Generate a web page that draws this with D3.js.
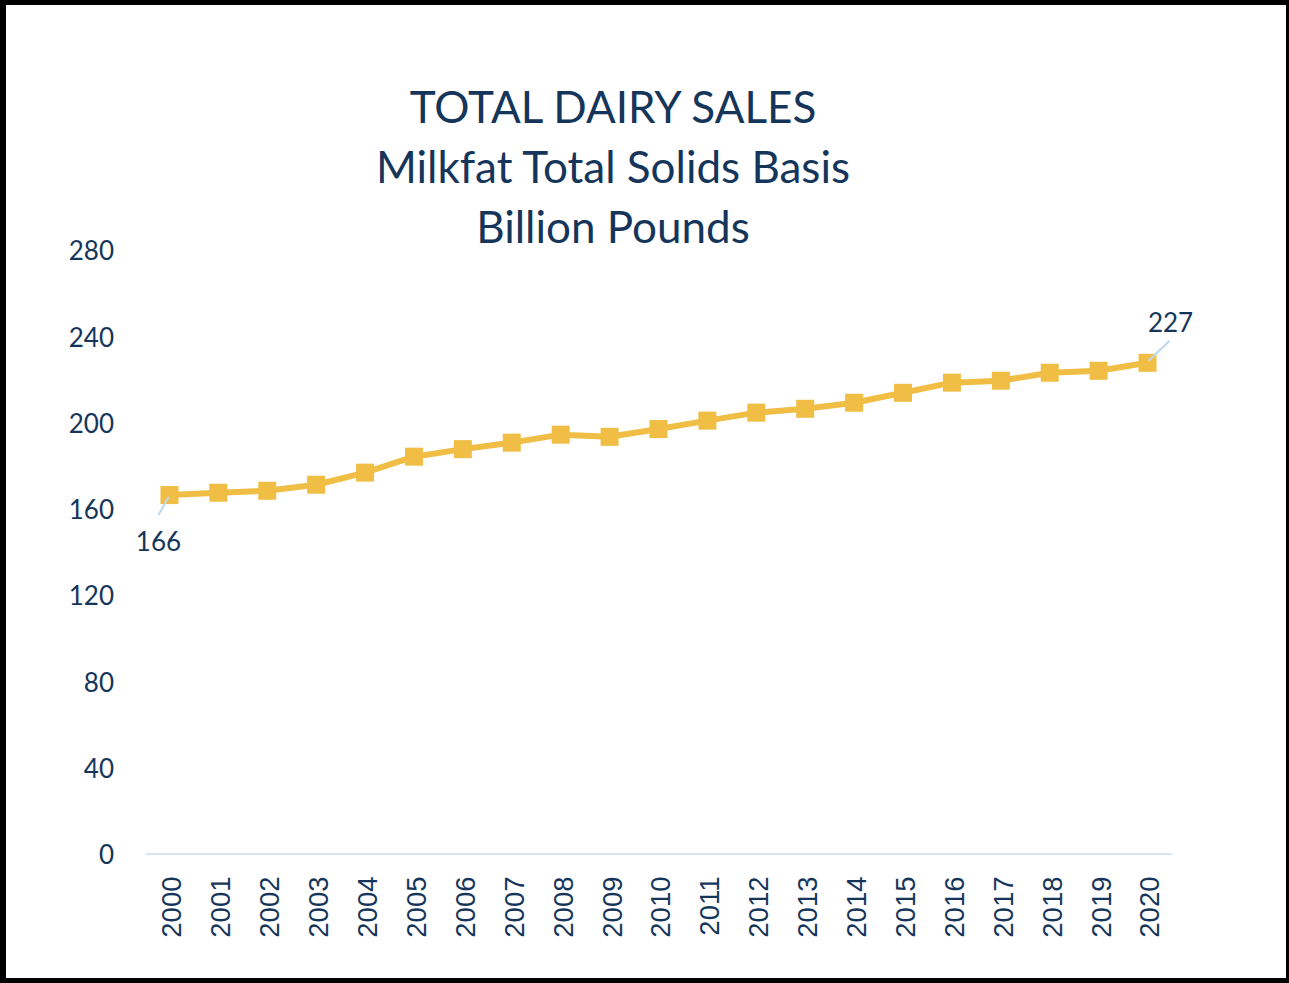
<!DOCTYPE html>
<html>
<head>
<meta charset="utf-8">
<script src="https://cdn.jsdelivr.net/npm/d3@7"></script>
<style>
  html, body { margin: 0; padding: 0; background: #fff; }
  svg { display: block; }
</style>
</head>
<body>
<svg id="chart" width="1289" height="983"></svg>
<script>
const years = ["2000","2001","2002","2003","2004","2005","2006","2007","2008","2009","2010",
               "2011","2012","2013","2014","2015","2016","2017","2018","2019","2020"];
const sales = [166.1, 167.2, 168.1, 170.9, 176.5, 183.9, 187.4, 190.4, 194.1, 193.1, 196.7,
               200.6, 204.3, 206.1, 208.9, 213.5, 218.2, 219.1, 222.8, 223.7, 227.4];
const yTicks = [0, 40, 80, 120, 160, 200, 240, 280];
const titleLines = ["TOTAL DAIRY SALES", "Milkfat Total Solids Basis", "Billion Pounds"];
const labelled = [{i: 0, text: "166"}, {i: 20, text: "227"}];

const svg = d3.select("#chart");
const W = 1289, H = 983;
const navy = "#15365a";
const gold = "#f0bd45";

// frame
svg.append("rect").attr("x", 0).attr("y", 0).attr("width", W).attr("height", H).attr("fill", "#000");
svg.append("rect").attr("x", 6).attr("y", 5).attr("width", W - 9).attr("height", H - 10).attr("fill", "#fff");

const x = d3.scaleBand().domain(years).range([145, 1172]);
const y = d3.scaleLinear().domain([0, 280]).range([853.5, 249.3]);

// title
const title = svg.append("g");
titleLines.forEach((t, k) => {
  title.append("text")
    .attr("x", 613).attr("y", 123 + k * 60)
    .attr("text-anchor", "middle")
    .attr("font-family", "Lato, 'Open Sans', sans-serif")
    .attr("font-size", 44)
    .attr("fill", navy)
    .text(t);
});

// y axis (labels only)
const yAxis = d3.axisLeft(y).tickValues(yTicks).tickSize(0).tickPadding(0);
const gy = svg.append("g").attr("transform", "translate(114,0)").call(yAxis);
gy.select(".domain").remove();
gy.selectAll("text")
  .attr("font-family", "Lato, 'Open Sans', sans-serif")
  .attr("font-size", 26)
  .attr("fill", navy)
  .attr("dy", "0.4em");

// x axis baseline
const xAxis = d3.axisBottom(x).tickSize(0).tickPadding(0);
const gx = svg.append("g").attr("transform", `translate(0,${y(0)})`).call(xAxis);
gx.select(".domain").attr("stroke", "#d9e5f5").attr("stroke-width", 2);
gx.selectAll("text")
  .attr("font-family", "'Liberation Sans', Arial, sans-serif")
  .attr("font-size", 27.5)
  .attr("fill", navy)
  .attr("text-anchor", "end")
  .attr("transform", "translate(2,23) rotate(-90)")
  .attr("x", 0).attr("y", 0).attr("dy", "0.36em");

// line
const cx = d => x(d) + x.bandwidth() / 2;
const line = d3.line().x((d, i) => cx(years[i])).y(d => y(d));
svg.append("path").datum(sales)
  .attr("d", line)
  .attr("fill", "none")
  .attr("stroke", gold)
  .attr("stroke-width", 6)
  .attr("stroke-linejoin", "round");

// markers
const ms = 18;
svg.selectAll("rect.mk").data(sales).enter().append("rect")
  .attr("class", "mk")
  .attr("x", (d, i) => cx(years[i]) - ms / 2)
  .attr("y", d => y(d) - ms / 2)
  .attr("width", ms).attr("height", ms)
  .attr("fill", gold);

// data labels with leader lines
const lab = [
  {i: 0, dx1: -1, dy1: 2, dx2: -11, dy2: 20, tx: -11, ty: 47},
  {i: 20, dx1: 1, dy1: -2, dx2: 22, dy2: -22, tx: 23, ty: -40}
];
lab.forEach((L, k) => {
  const px = cx(years[L.i]), py = y(sales[L.i]);
  svg.append("line")
    .attr("x1", px + L.dx1).attr("y1", py + L.dy1)
    .attr("x2", px + L.dx2).attr("y2", py + L.dy2)
    .attr("stroke", "#bdd7ee").attr("stroke-width", 2);
  svg.append("text")
    .attr("x", px + L.tx).attr("y", py + L.ty)
    .attr("text-anchor", "middle")
    .attr("dy", "0.36em")
    .attr("font-family", "Lato, 'Open Sans', sans-serif")
    .attr("font-size", 26)
    .attr("fill", navy)
    .text(labelled[k].text);
});
</script>
</body>
</html>
